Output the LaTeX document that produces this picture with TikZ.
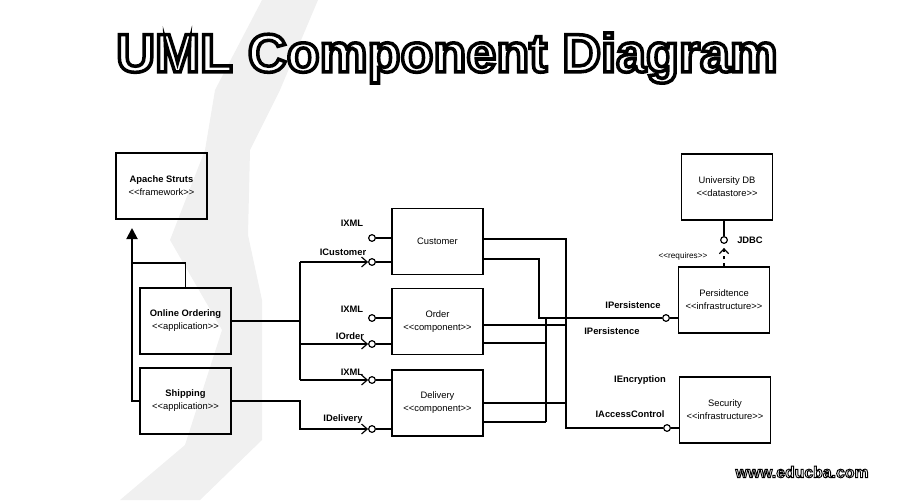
\documentclass[tikz,border=0pt]{standalone}
\usepackage{fontspec}
\setmainfont{Liberation Sans}
\usetikzlibrary{arrows.meta}
\newcommand{\stereo}[1]{<\kern0pt<#1>\kern0pt>}
\newcommand{\outlined}[2]{\special{pdf:literal direct 0 G 2 Tr #1 w}#2\special{pdf:literal direct 0 Tr}}
\begin{document}
\begin{tikzpicture}[x=0.03cm,y=-0.03cm,
  comp/.style={draw,line width=1.2pt,minimum width=2.73cm,minimum height=1.98cm,align=center,font=\fontsize{8}{11}\selectfont},
  conn/.style={line width=1.6pt},
  ball/.style={circle,draw,fill=white,line width=1pt,inner sep=0pt,minimum size=0.2cm},
  ilabel/.style={font=\fontsize{8}{9}\selectfont\bfseries,inner sep=1pt},
  socket/.style={-{Straight Barb[length=0.17cm,width=0.3cm,line width=1pt]}},
  titlefont/.style={font=\fontsize{46}{50}\selectfont\bfseries},
  webfont/.style={font=\fontsize{13.5}{15}\selectfont\bfseries}]
\useasboundingbox (0,0) rectangle (900,500);
% stippled background swath
\fill[black!6] (262,0) -- (318,0) -- (280,90) -- (250,150) -- (248,235) -- (262,300) -- (262,440) -- (200,500) -- (120,500) -- (185,445) -- (222,330) -- (170,240) -- (205,150) -- (215,90) -- cycle;
% title
\node[titlefont,text=white] (title) at (447,58) {\outlined{3}{UML Component Diagram}};
% components
\node[comp] (struts) at (161.5,186) {\textbf{Apache Struts}\\\stereo{framework}};
\node[comp] (ordering) at (185.5,321) {\textbf{Online Ordering}\\\stereo{application}};
\node[comp] (shipping) at (185.5,401) {\textbf{Shipping}\\\stereo{application}};
\node[comp] (customer) at (437.5,241.5) {Customer};
\node[comp] (order) at (437.5,321.5) {Order\\\stereo{component}};
\node[comp] (delivery) at (437.5,403) {Delivery\\\stereo{component}};
\node[comp] (unidb) at (727,187) {University DB\\\stereo{datastore}};
\node[comp] (persist) at (724,300) {Persidtence\\\stereo{infrastructure}};
\node[comp] (security) at (725,410) {Security\\\stereo{infrastructure}};
% interface balls
\node[ball] (custXml) at (372,238) {};
\node[ball] (custReq) at (372,262) {};
\node[ball] (ordXml) at (372,318) {};
\node[ball] (ordReq) at (372,344) {};
\node[ball] (delXml) at (372,380) {};
\node[ball] (delReq) at (372,429) {};
\node[ball] (perBall) at (666,318) {};
\node[ball] (secBall) at (667,428) {};
\node[ball] (jdbc) at (724,240) {};
% interface labels
\node[ilabel] (lblCustXml) at (352,223) {IXML};
\node[ilabel] (lblCustReq) at (343,252) {ICustomer};
\node[ilabel] (lblOrdXml) at (352,309) {IXML};
\node[ilabel] (lblOrdReq) at (350,336) {IOrder};
\node[ilabel] (lblDelXml) at (352,372) {IXML};
\node[ilabel] (lblDelReq) at (343,419) {IDelivery};
\node[ilabel] (lblPerA) at (633,305) {IPersistence};
\node[ilabel] (lblPerB) at (612,331) {IPersistence};
\node[ilabel] (lblEnc) at (640,380) {IEncryption};
\node[ilabel] (lblAcc) at (630,414) {IAccessControl};
\node[ilabel] (lblJdbc) at (750,240) {JDBC};
\node[font=\fontsize{7}{8}\selectfont,inner sep=1pt] (lblReq) at (683,256) {\stereo{requires}};
% helper coordinates
\coordinate (strutsIn) at (132,228);
\coordinate (join) at (132,263);
\coordinate (bus) at (300,0);
\coordinate (busA) at (566,0);
\coordinate (busB) at (539,0);
\coordinate (busC) at (546,0);
% left side connectors
\draw[conn,-{Triangle[length=0.33cm,width=0.33cm]}] (shipping.west) -| (strutsIn);
\draw[conn] (ordering.north) |- (join);
\draw[conn] (ordering.east) -- (ordering.east -| bus);
\draw[conn] (bus |- custReq) -- (bus |- delXml);
\draw[conn,socket] (bus |- custReq) -- (custReq.west);
\draw[conn,socket] (bus |- ordReq) -- (ordReq.west);
\draw[conn,socket] (bus |- delXml) -- (delXml.west);
\draw[conn,socket] (shipping.east) -| (bus |- delReq) -- (delReq.west);
% provided interfaces
\draw[conn] (custXml) -- (custXml -| customer.west);
\draw[conn] (custReq) -- (custReq -| customer.west);
\draw[conn] (ordXml) -- (ordXml -| order.west);
\draw[conn] (ordReq) -- (ordReq -| order.west);
\draw[conn] (delXml) -- (delXml -| delivery.west);
\draw[conn] (delReq) -- (delReq -| delivery.west);
% right side connectors
\draw[conn] (customer.east |- 0,239) -| (busA |- secBall) -- (secBall);
\draw[conn] (customer.east |- 0,259) -| (busB |- perBall) -- (perBall);
\draw[conn] (order.east |- 0,325) -- (busA |- 0,325);
\draw[conn] (order.east |- 0,343) -- (busC |- 0,343);
\draw[conn] (busC |- perBall) -- (busC |- 0,422);
\draw[conn] (delivery.east |- 0,403) -- (busA |- 0,403);
\draw[conn] (delivery.east |- 0,422) -- (busC |- 0,422);
\draw[conn] (perBall) -- (perBall -| persist.west);
\draw[conn] (secBall) -- (secBall -| security.west);
% JDBC
\draw[conn] (jdbc) -- (jdbc |- unidb.south);
\draw[line width=1pt,dashed,-{Straight Barb[length=0.15cm,width=0.28cm,line width=1pt]},shorten >=0.12cm] (persist.north) -- (jdbc.south);
% watermark
\node[webfont,text=white] (web) at (802,472) {\outlined{0.8}{www.educba.com}};
\end{tikzpicture}
\end{document}
